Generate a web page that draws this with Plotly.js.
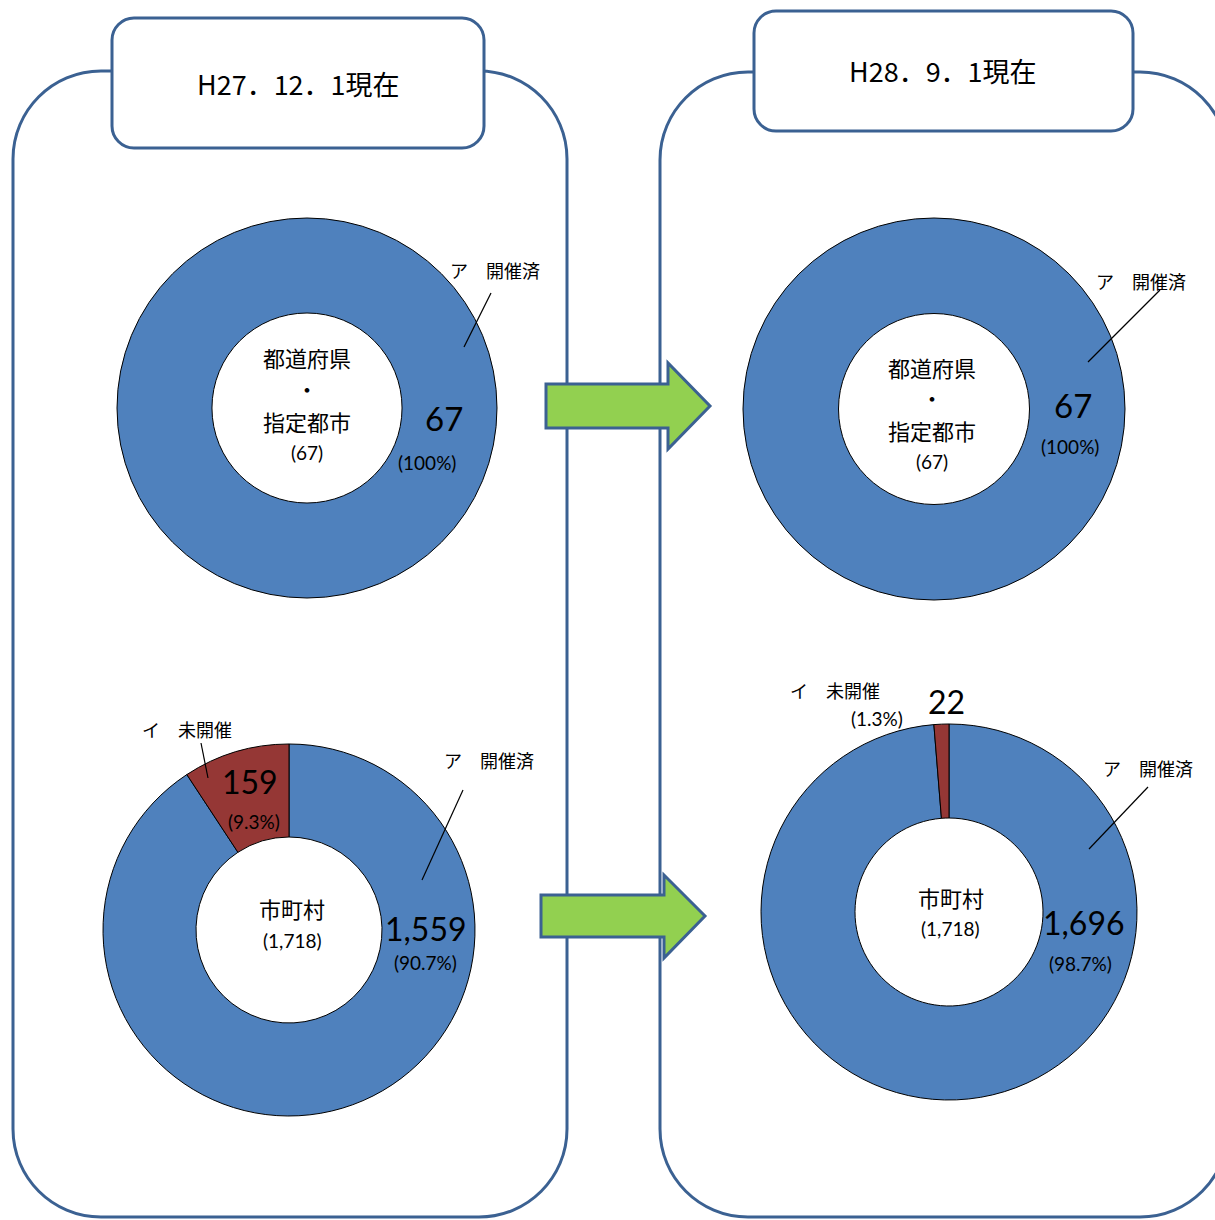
<!DOCTYPE html>
<html>
<head>
<meta charset="utf-8">
<script src="https://cdn.plot.ly/plotly-3.0.1.min.js"></script>
<style>html,body{margin:0;padding:0;background:#fff;}#chart{width:1215px;height:1220px;}</style>
</head>
<body>
<div id="chart"></div>
<script>
// ---- data ----
const categories = ['ア　開催済', 'イ　未開催'];
const prefValuesH27 = [67, 0];
const prefValuesH28 = [67, 0];
const muniValuesH27 = [1559, 159];
const muniValuesH28 = [1696, 22];
const dateLabels = ['H27．12．1現在', 'H28．9．1現在'];
const prefGroupLines = ['都道府県', '・', '指定都市'];
const muniGroupName = '市町村';

// ---- helpers ----
const W = 1215, H = 1220;
const X = px => px / W;
const Y = py => 1 - py / H;
const BLUE = '#4F81BD', RED = '#953735', EDGE = '#3B6192';
const JP = '"Noto Sans CJK JP", "Noto Sans", sans-serif';
const NUM = 'Lato, "Noto Sans", sans-serif';
const total = a => a.reduce((s, v) => s + v, 0);
const fmt = v => v.toLocaleString('en-US');
const pct = (v, t) => {
  const p = v / t * 100;
  return (Math.abs(p - Math.round(p)) < 1e-9 ? p.toFixed(0) : p.toFixed(1)) + '%';
};

function pieTrace(values, cx, cy, r) {
  const labs = [], vals = [], cols = [];
  values.forEach((v, i) => { if (v > 0) { labs.push(categories[i]); vals.push(v); cols.push(i === 0 ? BLUE : RED); } });
  return {
    type: 'pie', labels: labs, values: vals, hole: 0.5, sort: false,
    direction: 'clockwise', rotation: 0, textinfo: 'none', hoverinfo: 'label+value+percent',
    showlegend: false,
    marker: { colors: cols, line: { color: '#000', width: 1 } },
    domain: { x: [X(cx - r), X(cx + r)], y: [Y(cy + r), Y(cy - r)] }
  };
}

function rr(x0, y0, x1, y1, r) {
  const k = 0.5523 * r;
  return `M${X(x0 + r)},${Y(y0)} L${X(x1 - r)},${Y(y0)} ` +
    `C${X(x1 - r + k)},${Y(y0)} ${X(x1)},${Y(y0 + r - k)} ${X(x1)},${Y(y0 + r)} ` +
    `L${X(x1)},${Y(y1 - r)} ` +
    `C${X(x1)},${Y(y1 - r + k)} ${X(x1 - r + k)},${Y(y1)} ${X(x1 - r)},${Y(y1)} ` +
    `L${X(x0 + r)},${Y(y1)} ` +
    `C${X(x0 + r - k)},${Y(y1)} ${X(x0)},${Y(y1 - r + k)} ${X(x0)},${Y(y1 - r)} ` +
    `L${X(x0)},${Y(y0 + r)} ` +
    `C${X(x0)},${Y(y0 + r - k)} ${X(x0 + r - k)},${Y(y0)} ${X(x0 + r)},${Y(y0)} Z`;
}
function poly(pts) {
  return 'M' + pts.map(p => X(p[0]) + ',' + Y(p[1])).join(' L') + ' Z';
}
function ann(text, px, py, size, family) {
  return { text: text, x: X(px), y: Y(py), xref: 'paper', yref: 'paper', showarrow: false,
    xanchor: 'center', yanchor: 'middle', font: { size: size, family: family || JP, color: '#000' } };
}
function lead(x0, y0, x1, y1) {
  return { type: 'line', xref: 'paper', yref: 'paper', x0: X(x0), y0: Y(y0), x1: X(x1), y1: Y(y1),
    line: { color: '#000', width: 1.2 }, layer: 'above' };
}

const tPref27 = total(prefValuesH27), tPref28 = total(prefValuesH28);
const tMuni27 = total(muniValuesH27), tMuni28 = total(muniValuesH28);

const data = [
  pieTrace(prefValuesH27, 307, 408, 190),
  pieTrace(prefValuesH28, 934, 409, 191),
  pieTrace(muniValuesH27, 289, 930, 186),
  pieTrace(muniValuesH28, 949, 912, 188)
];

const shapes = [
  { type: 'path', xref: 'paper', yref: 'paper', path: rr(13, 71, 567, 1217, 88), fillcolor: '#fff', line: { color: EDGE, width: 3 }, layer: 'below' },
  { type: 'path', xref: 'paper', yref: 'paper', path: rr(660, 72, 1228, 1217, 88), fillcolor: '#fff', line: { color: EDGE, width: 3 }, layer: 'below' },
  { type: 'path', xref: 'paper', yref: 'paper', path: rr(112, 18, 484, 148, 22), fillcolor: '#fff', line: { color: EDGE, width: 3 }, layer: 'below' },
  { type: 'path', xref: 'paper', yref: 'paper', path: rr(754, 11, 1133, 131, 22), fillcolor: '#fff', line: { color: EDGE, width: 3 }, layer: 'below' },
  { type: 'path', xref: 'paper', yref: 'paper', path: poly([[546,384],[668,384],[668,363],[710,406],[668,449],[668,428],[546,428]]), fillcolor: '#92D050', line: { color: EDGE, width: 3 }, layer: 'below' },
  { type: 'path', xref: 'paper', yref: 'paper', path: poly([[541,895],[664,895],[664,875],[705,916],[664,958],[664,937],[541,937]]), fillcolor: '#92D050', line: { color: EDGE, width: 3 }, layer: 'below' },
  lead(491, 293, 464, 347),
  lead(1160, 290, 1088, 362),
  lead(201, 743, 208, 778),
  lead(463, 790, 422, 880),
  lead(1148, 787, 1089, 849)
];

const annotations = [
  ann(dateLabels[0], 298, 83, 27),
  ann(dateLabels[1], 943, 71, 27),
  // top-left
  ann(prefGroupLines[0], 307, 357, 22), ann(prefGroupLines[1], 307, 388, 22), ann(prefGroupLines[2], 307, 421, 22),
  ann('(' + fmt(tPref27) + ')', 307, 452, 19, NUM),
  ann(fmt(prefValuesH27[0]), 444, 418, 33, NUM),
  ann('(' + pct(prefValuesH27[0], tPref27) + ')', 427, 463, 19, NUM),
  ann(categories[0], 495, 270, 18),
  // top-right
  ann(prefGroupLines[0], 932, 367, 22), ann(prefGroupLines[1], 932, 397, 22), ann(prefGroupLines[2], 932, 430, 22),
  ann('(' + fmt(tPref28) + ')', 932, 462, 19, NUM),
  ann(fmt(prefValuesH28[0]), 1073, 405, 33, NUM),
  ann('(' + pct(prefValuesH28[0], tPref28) + ')', 1070, 446, 19, NUM),
  ann(categories[0], 1141, 281, 18),
  // bottom-left
  ann(muniGroupName, 292, 908, 22),
  ann('(' + fmt(tMuni27) + ')', 292, 940, 19, NUM),
  ann(fmt(muniValuesH27[0]), 426, 928, 32, NUM),
  ann('(' + pct(muniValuesH27[0], tMuni27) + ')', 425, 962, 19, NUM),
  ann(fmt(muniValuesH27[1]), 250, 781, 32, NUM),
  ann('(' + pct(muniValuesH27[1], tMuni27) + ')', 254, 822, 19, NUM),
  ann(categories[1], 187, 729, 18),
  ann(categories[0], 489, 760, 18),
  // bottom-right
  ann(muniGroupName, 951, 897, 22),
  ann('(' + fmt(tMuni28) + ')', 951, 928, 19, NUM),
  ann(fmt(muniValuesH28[0]), 1084, 922, 32, NUM),
  ann('(' + pct(muniValuesH28[0], tMuni28) + ')', 1080, 963, 19, NUM),
  ann(fmt(muniValuesH28[1]), 946, 701, 32, NUM),
  ann('(' + pct(muniValuesH28[1], tMuni28) + ')', 877, 718, 19, NUM),
  ann(categories[1], 835, 690, 18),
  ann(categories[0], 1148, 768, 18)
];

const layout = {
  width: W, height: H, margin: { l: 0, r: 0, t: 0, b: 0 },
  paper_bgcolor: '#fff', plot_bgcolor: '#fff', showlegend: false,
  shapes: shapes, annotations: annotations
};
Plotly.newPlot('chart', data, layout, { displayModeBar: false, staticPlot: true });
</script>
</body>
</html>
